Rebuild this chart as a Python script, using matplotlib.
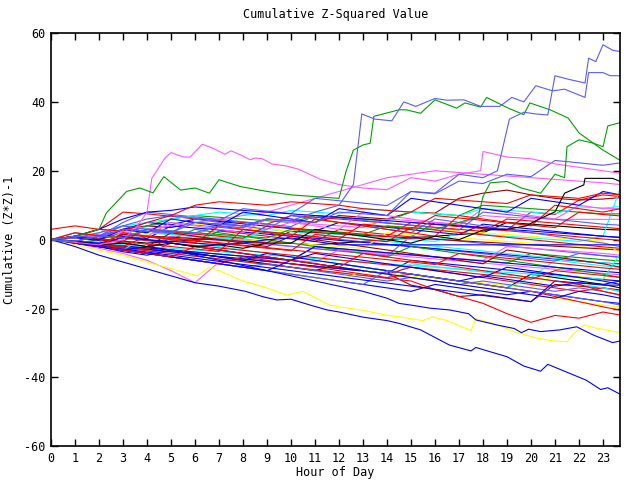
import matplotlib
matplotlib.use("Agg")
import matplotlib.pyplot as plt

plt.rcParams['font.family'] = 'DejaVu Sans Mono'
plt.rcParams['axes.unicode_minus'] = False

# hourly grid for the background walks (last sample at 23:43)
hours = list(range(24)) + [23.72]

red_walks = [
    [0, -0.8, -1.5, 1.5, 0.8, 0, -0.8, 2.5, 1.8, 1, 0.2, -0.5, 3, 2.2, 1.5, 0.8, 5, 4.2, 3.5, 2.8, 8, 7.3, 11.5, 13, 12.5],
    [3, 4, 3, 8, 7.5, 6.8, 6, 5.5, 5, 4.5, 7, 6.5, 6, 5.4, 4.8, 4.2, 3.6, 3, 2.4, 6, 5.4, 4.8, 4.2, 3.6, 3.2],
    [0, -1, -2, -3, -4, -1, -2, -3, -4, -5, -6, -7, -8, -9, -10, -8, -9, -10, -11, -12, -13, -14, -15, -14, -15],
    [0, -0.8, -1.6, -2.4, -3.2, -4, -4.8, -5.6, -6.4, -7.2, -8, -8.8, -9.6, -10.4, -11.2, -12, -14.5, -16.5, -18.5, -21.5, -24, -22, -22.8, -21, -21.9],
    [0, 1, 0.3, -0.4, 3, 2.3, 1.6, 1, 0.4, 4, 3.4, 2.8, 2.2, 1.6, 1, 5, 4.4, 3.8, 3.2, 2.6, 2, 1.4, 0.8, 0.2, -0.2],
    [0, -0.7, -1.4, -2.1, -2.8, 0.5, -0.2, -0.9, -1.6, -2.3, -3, -3.7, -4.4, -5.1, -5.8, -6.5, -7.2, -4, -4.7, -5.4, -6.1, -6.8, -7.5, -8.2, -8.6],
    [0, -1, -2.1, -3.1, -4, -5, -6, -7, -5, -6, -7, -8, -9, -10, -11, -10, -11, -12, -13, -14, -15, -16.5, -18, -19.5, -20.5],
    [0, -0.5, -1.2, -1.9, 1, 0.3, -0.4, -1.1, -1.8, -2.5, -3.2, 1.5, 0.8, 0.1, -0.6, 3.5, 2.8, 2.1, 1.4, 0.7, 0, -0.7, -1.4, -2.1, -2.5],
    [0, 2, 1.2, 0.5, -0.3, -1, -1.7, -2.4, -3.1, -3.8, -4.5, -5.2, -5.9, -6.6, -7.3, -8, -8.7, -9.4, -10.1, -10.8, -11.5, -9, -9.7, -10.4, -11],
    [0, 0.8, 0.1, -0.6, -1.3, -2, -2.7, -3.4, 3, 2.3, 1.6, 0.9, 0.2, 4.5, 3.8, 3.1, 7, 6.3, 5.6, 4.9, 4.2, 3.5, 8, 7.3, 6.9],
    [0, 1, 3, 2.5, 5, 7, 10, 11, 10.5, 10, 11, 10.5, 10, 9, 8.5, 8, 12, 11.5, 11, 10.5, 13, 12.5, 12, 13.5, 13],
    [0, -1, -2, 2, 1, 0, -1, 4, 3, 2, 1, 6, 5, 4, 3, 2, 1, 7, 6, 5, 4, 10, 9, 8, 9],
    [0, -1, -2, -3, -4, -5, -2, -3, -4, -5, -6, -7, -8, -4, -5, -6, -7, -8, -9, -10, -11, -12, -13, -15, -16],
]
blue_walks = [
    [0, -1, -2, -3, -4, -5, -6, -7, -8, -9, -10, -11, -12, -13, -14, -15, -13, -14, -15, -16, -15, -16, -17, -18, -18.5],
    [0, -0.6, 1.5, 0.9, 0.3, 4, 3.4, 2.8, 2.2, 1.6, 1, 0.4, -0.2, -0.8, -1.4, -2, -2.6, -3.2, -3.8, -4.4, -5, -5.6, -6.2, -6.8, -7],
    [0, -0.7, -1.4, -2.1, -2.8, -3.5, -4.2, -4.9, -5.6, -6.3, -7, -7.7, -8.4, -9.1, -9.8, -6, -6.7, -7.4, -8.1, -8.8, -9.5, -10.2, -10.9, -11.6, -12],
    [0, 0.5, -0.2, 3, 5, 4.3, 6, 5.3, 4.6, 3.9, 3.2, 2.5, 5, 4.3, 3.6, 2.9, 2.2, 1.5, 4.5, 3.8, 3.1, 2.4, 1.7, 1, 0.6],
    [0, -0.6, -1.2, -1.8, -2.4, -3, -3.6, -4.2, -4.8, -5.4, -6, -2, -2.6, -3.2, -3.8, -4.4, -5, -5.6, -6.2, -6.8, -7.4, -8, -8.6, -9.2, -9.6],
    [0, 1, 3, 6, 8, 8.5, 9.5, 9, 8.5, 8, 7.5, 7, 6.5, 6, 5.5, 5, 4.5, 4, 3.5, 3, 2.5, 2, 1.5, 1, 0.7],
    [0, -1, -2, -3, -2, -3, -4, -5, -6, -4, -5, -6, -7, -8, -9, -10, -11, -12, -10.5, -11.5, -12.5, -13.5, -12.5, -13.2, -13.2],
    [0, -0.5, -1, 0.5, 0, -0.5, -1, -1.5, -1, 0, 0.5, -0.5, -1.5, -1.5, -1.5, -1.5, -1.5, -1.5, -1.5, -1.5, -1.5, -1.5, -1.5, -1.5, -1.5],
    [0, -0.9, -1.8, -2.7, -3.6, -4.5, -5.4, -6.3, -7.2, -8.1, -9, -9.9, -10.8, -11.7, -12.6, -13.5, -14.4, -15.3, -16.2, -17.1, -18, -12, -12.6, -13, -12],
    [0, 1, 0, 3, 2, 6, 5, 4, 8, 7, 6, 5, 9, 8, 7, 12, 11, 10, 9, 8, 12, 11, 10, 14, 13],
    [0, -1, -2, -3, -4, -5, -6, -7, -8, -9, -6, -7, -8, -9, -10, -11, -12, -13, -14, -15, -16, -17, -15, -16, -17],
    [0, -1, -2, 1, 0, -1, -2, -3, -4, -5, -6, -4, -5, -6, -7, -8, -9, -10, -11, -8, -9, -10, -11, -12, -13],
]
lightblue_walks = [
    [0, 1, 0.3, 2, 4, 5, 4.3, 3.6, 2.9, 2.2, 1.5, 0.8, 0.1, -0.6, -1.3, -2, -2.7, -3.4, -4.1, -4.8, -5.5, -6.2, -4, -4.7, -5],
    [0, -0.5, 1, 3, 2.3, 1.6, 0.9, 0.2, -0.5, -1.2, -1.9, -2.6, -3.3, -4, -4.7, 1, 0.3, -0.4, -1.1, -1.8, -2.5, -3.2, -3.9, -4.6, -5.2],
    [0, 0.5, 1, 5, 8, 7.3, 6.6, 5.9, 5.2, 4.5, 3.8, 7, 6.3, 5.6, 4.9, 4.2, 3.5, 2.8, 8, 7.3, 6.6, 5.9, 5.2, 4.5, 4.2],
    [0, 0.5, 2, 4, 6, 7, 6.3, 5.6, 9, 8.3, 7.6, 12, 11.3, 10.6, 9.9, 14, 13.3, 17, 16.3, 19, 18.3, 23, 22.3, 21.6, 22.3],
    [0, -1, -2, -3, -4, -5, -6, -7, -8, -7, -8, -9, -10, -11, -12, -11, -12, -13, -12, -13, -14, -15, -14, -15, -16.2],
    [0, 2, 1, 4, 3, 2, 6, 5, 4, 3, 7, 6, 5, 4, 3, 2, 6, 5, 4, 3, 2, 1, 0, -1, -2],
    [0, -1, -2, -3, -4, -5, -6, -7, -8, -9, -10, -11, -12, -13, -9, -10, -11, -12, -13, -14, -15, -16, -17, -18, -19],
]
magenta_walks = [
    [0, -0.5, -1.1, -1.7, -2.3, 1, 0.4, -0.2, -0.8, -1.4, -2, -2.6, -3.2, -3.8, -4.4, -5, -5.6, -6.2, -6.8, -7.4, -8, -8.6, -9.2, -9.8, -10.2],
    [0, 0.5, 1.5, 1, 2.5, 2, 1.5, 4, 3.5, 3, 5, 4.5, 4, 3.5, 6, 5.5, 5, 4.5, 7, 6.5, 6.2, 5.9, 5.9, 5.9, 5.9],
    [0, -1, -2.5, -4, -6, -9, -12.5, -6.5, -5, -5.5, -6, -6.5, -3, -3.5, -4, -4.5, -5, -5.5, -6, -2, -2.5, -3, -3.5, -4, -4.5],
    [0, 0.5, 1, 2, 3, 4, 5, 6, 7, 8, 10, 12, 14, 16, 18, 19, 20, 19.5, 19, 18.5, 18, 17.5, 17, 16.5, 16],
    [0, 1, 3, 2, 1, 5, 4, 3, 2, 6, 5, 4, 3, 8, 7, 6, 5, 4, 9, 8, 7, 6, 10, 9, 9],
]
cyan_walks = [
    [0, -0.8, -1.6, -2.4, -3.2, -4, -4.8, -5.6, -6.4, -7.2, -8, -8.8, -9.6, -10.4, -11.2, -7, -7.8, -8.6, -9.4, -10.2, -11, -6, -6.8, -7.6, -8],
    [0, 0.5, 1, 4, 3.3, 2.6, 1.9, 1.2, 0.5, 3, 2.3, 1.6, 0.9, 0.2, -0.5, -1.2, -1.9, -2.6, -3.3, -4, -4.7, -5.4, -6.1, -6.8, -7.2],
    [0, 0.5, 0, -0.5, 2, 1.5, 1, 0.5, 0, 3, 2.5, 2, 1.5, 1, 0.5, 0, -0.5, 2, 1.5, 1, 0.5, 0, -0.5, 1, 15],
    [0, 1, 2, 4, 5, 6, 7, 8, 7.5, 7, 8.5, 8, 7.5, 9, 8.5, 8, 7.5, 7, 9, 8.5, 8, 7.5, 9.5, 9.2, 9.6],
    [0, -0.5, -1, -1.5, -2, -2.5, -3, -3.5, -4, -4.5, -5, -5.5, -6, -6.5, -7, -7.5, -8, -8.5, -9, -9.5, -10, -10.5, -11, -11.5, -4],
    [0, -1, -2, -3, 1, 0, -1, -2, -3, -4, -5, -6, -7, -8, -9, -10, -11, -12, -13, -14, -11, -12, -13, -14, -15],
]
yellow_walks = [
    [0, -0.7, -1.4, -2.1, -2.8, -3.5, -4.2, -4.9, -5.6, -6.3, -7, -7.7, -8.4, -9.1, -9.8, -10.5, -11.2, -11.9, -12.6, -13.3, -14, -10, -10.7, -11.4, -11.8],
    [0, 0.5, 3, 2.5, 2, 1.5, 1, 0.5, 0, -0.5, -1, -1.5, -2, -2.5, 2, 1.5, 1, 0.5, 0, -0.5, -1, -1.5, -2, -2.5, -3],
    [0, -0.5, -1, 2, 1.5, 5, 4.5, 4, 3.5, 3, 2.5, 5.5, 5, 4.5, 4, 3.5, 3, 2.5, 2, 1.5, 1, 0.5, 0, -0.5, -4],
    [0, -1, -2, -3, -4, -5, -6, -7, -8, -9, -10, -11, -12, -9, -10, -11, -12, -13, -14, -15, -16, -17, -18, -19, -19.5],
]
green_walks = [
    [0, -0.6, -1.2, -1.8, -2.4, -3, -3.6, -4.2, -4.8, -5.4, -6, -2, -2.6, -3.2, -3.8, -4.4, -5, -5.6, -6.2, -6.8, -4, -4.6, -5.2, -5.8, -6.2],
    [0, 0.5, 1, 1.5, 4, 6, 7, 6.5, 6, 5.5, 5, 7, 6.5, 6, 5.5, 8, 7.5, 7, 10, 9.5, 9, 8.5, 8, 7.5, 7.5],
    [0, -1, 0, 2, 1, 0, 3, 2, 1, 0, -1, -2, -3, -4, -5, -2, -3, -4, -5, -6, -7, -8, -9, -10, -11],
]
darkred_walks = [
    [0, 0.5, 1, 3, 4, 3.5, 5, 4.5, 4, 6, 5.5, 5, 7, 6.5, 6, 8, 7.7, 12, 13.5, 14.4, 13, 12, 11.5, 11.8, 12.2],
    [0, -0.7, -1.4, -2.1, -2.8, -3.5, -4.2, -4.9, -5.6, -6.3, -7, -7.7, -8.4, -9.1, -9.8, -13.2, -14.5, -16.5, -16, -17, -18, -13, -13.5, -14, -14.6],
    [0, -0.4, -0.8, 1.5, 1.1, 0.7, 0.3, -0.1, -0.5, -0.9, 2.5, 2.1, 1.7, 1.3, 0.9, 0.5, 0.1, -0.3, -0.7, -1.1, -1.5, -1.9, -2.3, -2.7, -3],
    [0, 1, 0, -1, -2, 2, 1, 0, -1, -2, 1, 0, -1, -2, -3, -4, -5, -6, -7, -3, -4, -5, -6, -7, -8],
]
black_walks = [
    [0, 0.5, 0, -0.5, -1, -0.5, 0, 0.5, 0, -0.5, -1, -1.5, -1, -0.5, 0, 0.5, 1, 1.5, 2, 5, 4.5, 4, 3.5, 3, 2.8],
    [0, -1, -2, -3, -2, -3, -4, -5, -6, -7, -8, -9, -7, -8, -9, -10, -11, -12, -13, -14, -10, -11, -12, -13, -14],
]

# the stand-out series, as (hour, value) pairs
lightblue_top1 = [(0, 0), (1, 1), (2, 0.5), (3, 3), (4, 2.5), (5, 2), (6, 5), (7, 4.5), (8, 4), (9, 6),
                  (10, 5.5), (11, 8), (12, 10), (12.6, 16), (12.95, 36.5), (13.5, 35), (14.2, 34.5), (14.7, 40),
                  (15.2, 38.7), (16.0, 41), (16.5, 40.5), (17.2, 40.6), (17.9, 38.7), (18.7, 38.7), (19.2, 41.3),
                  (19.7, 40), (20.2, 44.7), (20.9, 43.2), (21.4, 43.7), (22.25, 41.3), (22.4, 48.5), (23.0, 48.5),
                  (23.3, 47.6), (23.72, 47.6)]
lightblue_top2 = [(0, 0), (1, -0.5), (2, 1), (3, 0.5), (4, 3), (5, 2.5), (6, 2), (7, 4), (8, 3.5), (9, 6),
                  (10, 5.5), (11, 5), (12, 8), (13, 7.5), (14, 7), (15, 14), (16, 13.5), (17, 19), (18, 18),
                  (18.6, 20), (19.1, 35), (19.7, 37), (20.2, 36.5), (20.7, 36.2), (21.0, 47.6), (21.6, 46.5),
                  (22.25, 45.5), (22.4, 52.7), (22.7, 51.7), (23.0, 56.6), (23.4, 55), (23.72, 54.6)]
magenta_hump = [(0, 0), (1, -0.8), (2, -1.5), (3, 0), (3.6, 4), (4.0, 8), (4.2, 17.8), (4.75, 23.7), (5.0, 25.3),
                (5.5, 24), (5.8, 24), (6.3, 27.7), (6.7, 26.7), (7.25, 24.8), (7.5, 25.8), (7.9, 24.6), (8.3, 23.2),
                (8.5, 23.7), (8.8, 23.5), (9.2, 22), (9.8, 21.4), (10.3, 20.5), (11.2, 17.6), (12, 16), (13, 15),
                (14, 14.5), (15, 18), (16, 17), (17, 19), (17.9, 20), (18.0, 25.6), (19, 24), (20, 23.5),
                (21, 22), (22, 21), (23, 20), (23.72, 19.3)]
green_top1 = [(0, 0), (1, 1), (2, 3), (2.3, 7.7), (3.15, 14), (3.7, 15), (4.25, 13.6), (4.7, 18.3), (5.4, 14.4),
              (6.0, 15), (6.6, 13.5), (7.0, 17.4), (7.9, 15.4), (9, 14), (10, 13), (11, 12.5), (12, 12),
              (12.3, 20), (12.6, 26), (13.0, 27.5), (13.3, 28), (13.45, 35.8), (14.5, 37.7), (14.8, 37.7),
              (15.4, 36.7), (16.0, 40.6), (16.9, 38.2), (17.25, 39.7), (17.9, 38.5), (18.15, 41.3), (19.05, 38.2),
              (19.7, 36.3), (19.95, 39.7), (20.8, 37.7), (21.55, 35.3), (22, 31), (22.5, 28.5), (23, 26),
              (23.72, 23)]
green_top2 = [(0, 0), (1, -0.5), (2, 1), (3, 0.5), (4, 3), (5, 2.5), (6, 2), (7, 1.5), (8, 1), (9, 0.5),
              (10, 3), (11, 2.5), (12, 2), (13, 1.5), (14, 4), (15, 3.5), (16, 3), (17, 5), (17.8, 6.7),
              (18, 12.5), (18.3, 16.5), (19, 16.9), (19.6, 15), (20.4, 13.5), (21, 19), (21.4, 18), (21.5, 27),
              (22, 29), (22.6, 28), (23, 27), (23.2, 33), (23.72, 34)]
blue_bottom = [(0, 0), (1, -2), (2, -4.5), (3, -6.5), (4, -8.5), (5, -10.5), (6, -12.5), (7, -13.5), (8.1, -15),
               (8.85, -16.6), (9.4, -17.5), (10, -17.3), (10.8, -19), (11.5, -20.4), (12, -21), (13, -22.5),
               (14, -23.5), (14.5, -24.3), (15.4, -26.2), (16.6, -30.6), (17.5, -32.3), (17.7, -31.3), (19, -34),
               (19.7, -36.7), (20.4, -38.2), (20.7, -36.2), (21.5, -38.5), (22.3, -40.8), (22.9, -43.5),
               (23.2, -43), (23.72, -44.9)]
blue_low = [(0, 0), (1, -1), (2, -2), (3, -3.5), (4, -4.5), (5, -3), (6, -4.5), (7, -6), (8, -7.5), (9, -9),
            (10, -10.5), (11, -12), (12, -13.5), (13, -15), (14, -17), (14.5, -18.5), (15, -19), (15.8, -19.9),
            (16.6, -20.4), (17.4, -21.5), (17.7, -23.3), (18.6, -24.8), (19.3, -25.8), (19.6, -27), (19.9, -26),
            (20.4, -26.7), (21.2, -26.2), (21.9, -25.3), (22.6, -27.7), (23.4, -29.9), (23.72, -29.4)]
yellow_low = [(0, 0), (1, -1.5), (2, -3), (3, -4.5), (4, -6.5), (5.2, -8.8), (6.1, -10.5), (6.6, -8), (7, -9),
              (8, -12), (9, -14), (9.8, -16.1), (10.5, -15), (11.6, -19), (12, -19.5), (13, -20.5), (14, -22),
              (14.5, -22.4), (15.5, -23.5), (15.9, -22.4), (16.5, -23.5), (17.5, -26.4), (17.7, -22.9),
              (18.5, -24.5), (19.3, -26.7), (20.2, -28.5), (20.9, -29.4), (21.5, -29.6), (21.8, -27.2),
              (22.2, -24.8), (22.8, -25.8), (23.72, -27)]
black_rise = [(0, 0), (1, -0.5), (2, -1.5), (3, -1), (4, -2), (5, -1), (6, -2), (7, -1.5), (8, -2.5), (9, -1),
              (10, -1), (11, 3), (12, 2), (13, 1), (14, 0), (15, -1), (16, 1), (17, 0), (18, 2.8), (19, 3),
              (19.8, 4), (20.2, 5.5), (21, 8.1), (21.4, 13.5), (22.2, 15.9), (22.25, 17.8), (23.4, 17.8),
              (23.72, 16.9)]

RED, GREEN, BLUE, LBLUE = '#ff0000', '#00a000', '#0000ff', '#5a5aff'
MAGENTA, CYAN, YELLOW, BLACK, DRED = '#ff5aff', '#00ffff', '#ffff00', '#000000', '#a00000'

fig = plt.figure(figsize=(6.4, 4.8), dpi=100)
ax = fig.add_axes([0.0797, 0.0702, 0.8895, 0.8610])


def draw(vals, color, x=None):
    if x is None:
        x = hours
    ax.plot(x, vals, color=color, lw=0.8)


def draw_pairs(pairs, color):
    xs = [p[0] for p in pairs]
    ys = [p[1] for p in pairs]
    draw(ys, color, xs)


groups = [(red_walks, RED), (green_walks, GREEN), (blue_walks, BLUE), (magenta_walks, MAGENTA),
          (cyan_walks, CYAN), (darkred_walks, DRED), (yellow_walks, YELLOW), (black_walks, BLACK),
          (lightblue_walks, LBLUE)]
# interleave colours the way gnuplot cycles through them
n_max = max(len(g[0]) for g in groups)
for i in range(n_max):
    for walks, col in groups:
        if i < len(walks):
            draw(walks[i], col)

draw_pairs(yellow_low, YELLOW)
draw_pairs(blue_low, BLUE)
draw_pairs(blue_bottom, BLUE)
draw_pairs(black_rise, BLACK)
draw_pairs(magenta_hump, MAGENTA)
draw_pairs(green_top1, GREEN)
draw_pairs(green_top2, GREEN)
draw_pairs(lightblue_top1, LBLUE)
draw_pairs(lightblue_top2, LBLUE)

ax.set_xlim(0, 23.72)
ax.set_ylim(-60, 60)
ax.set_xticks(range(24))
ax.set_yticks(range(-60, 61, 20))
ax.tick_params(direction='in', length=5, width=1, top=True, right=True, labelsize=8.5, pad=4)
for s in ax.spines.values():
    s.set_linewidth(1.2)

ax.set_title("Cumulative Z-Squared Value", fontsize=8.5, pad=11)
ax.set_xlabel("Hour of Day", fontsize=8.5, labelpad=1)
ax.set_ylabel("Cumulative (Z*Z)-1", fontsize=8.5, labelpad=6)

plt.savefig("out.png", dpi=100)
